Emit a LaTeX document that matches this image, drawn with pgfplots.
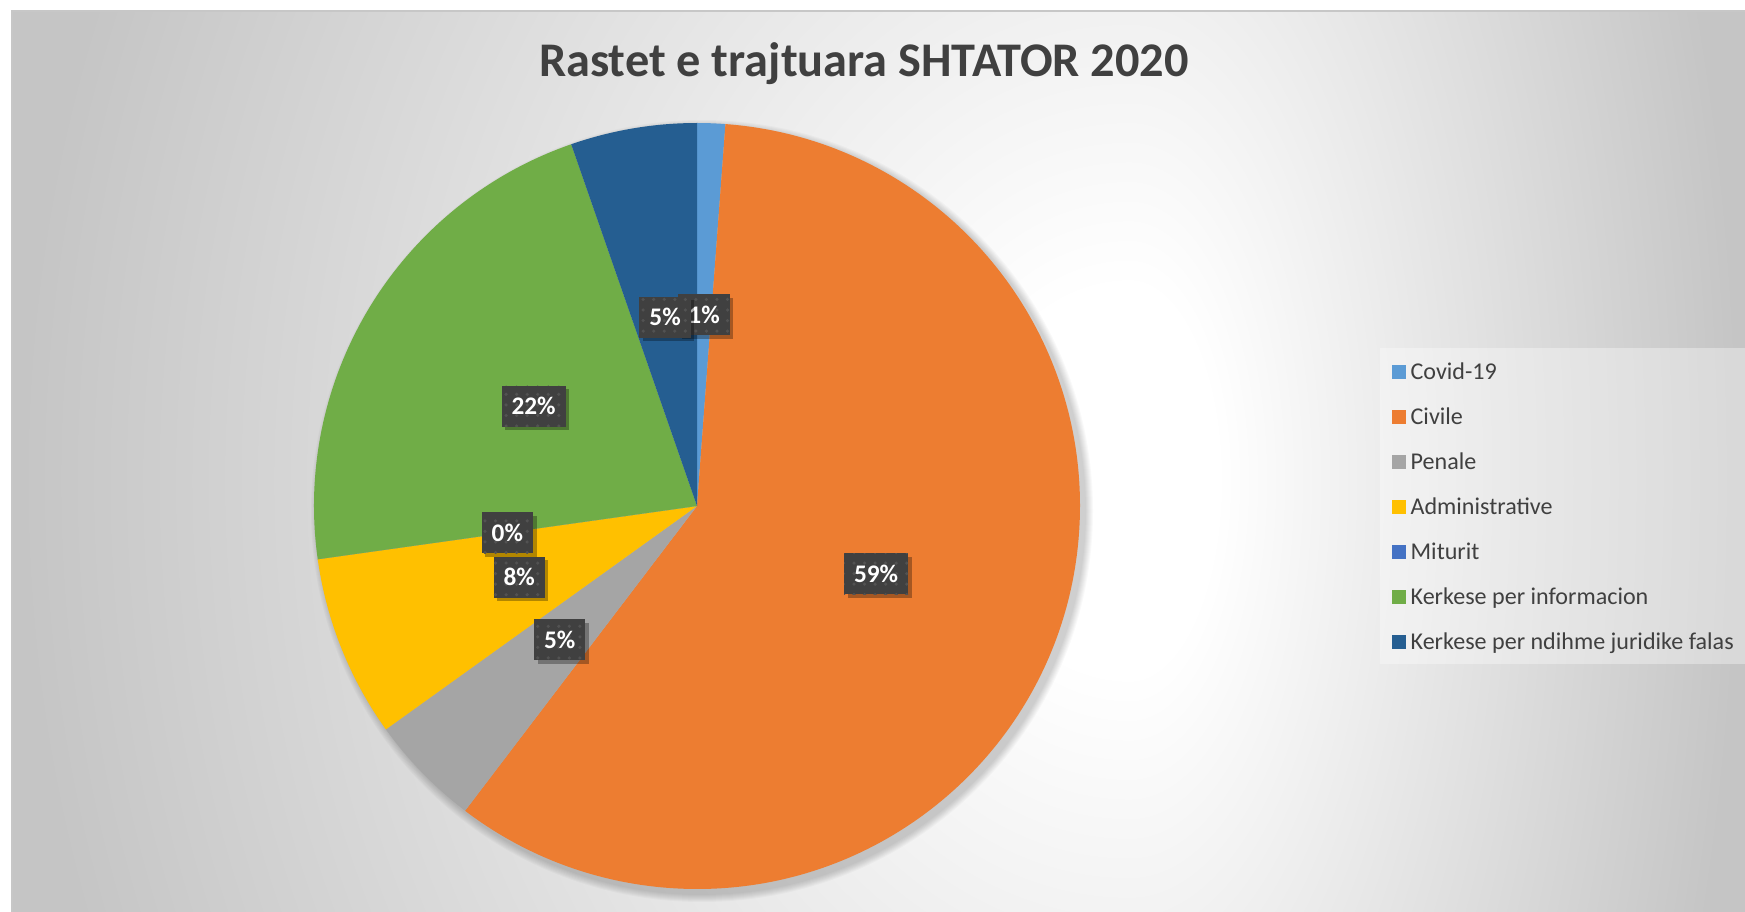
\documentclass[border=0pt]{standalone}
\usepackage{fontspec}
\setmainfont{Carlito}
\usepackage{pgfplots}
\usepackage{pgfplotstable}
\pgfplotsset{compat=1.18}
\usetikzlibrary{shadows,patterns}

\definecolor{c0}{HTML}{5B9BD5}
\definecolor{c1}{HTML}{ED7D31}
\definecolor{c2}{HTML}{A5A5A5}
\definecolor{c3}{HTML}{FFC000}
\definecolor{c4}{HTML}{4472C4}
\definecolor{c5}{HTML}{70AD47}
\definecolor{c6}{HTML}{255E91}
\definecolor{txtgray}{HTML}{404040}
\definecolor{boxgray}{HTML}{404040}
\definecolor{bgdark}{RGB}{197,197,197}

% cases handled, September 2020
\pgfplotstableread[col sep=comma]{
name,count
Covid-19,2
Civile,100
Penale,8
Administrative,13
Miturit,0
Kerkese per informacion,37
Kerkese per ndihme juridike falas,9
}\casetable

% total and slice angles (clockwise from 12 o'clock)
\def\total{0}
\foreach \i in {0,...,6}{%
  \pgfplotstablegetelem{\i}{count}\of\casetable
  \pgfmathparse{\total+\pgfplotsretval}%
  \xdef\total{\pgfmathresult}%
}
\def\cumsum{0}
\foreach \i in {0,...,6}{%
  \pgfplotstablegetelem{\i}{count}\of\casetable
  \pgfmathsetmacro\angA{90-360*(\cumsum/\total)}%
  \pgfmathtruncatemacro\pct{round(100*(\pgfplotsretval/\total))}%
  \pgfmathparse{\cumsum+\pgfplotsretval}\xdef\cumsum{\pgfmathresult}%
  \pgfmathsetmacro\angB{90-360*(\cumsum/\total)}%
  \pgfmathsetmacro\angM{(\angA+\angB)/2}%
  \expandafter\xdef\csname pieA\i\endcsname{\angA}%
  \expandafter\xdef\csname pieB\i\endcsname{\angB}%
  \expandafter\xdef\csname pieM\i\endcsname{\angM}%
  \expandafter\xdef\csname pieP\i\endcsname{\pct}%
}

\tikzset{lbl/.style={fill=boxgray, text=white,
  font=\fontsize{7.2pt}{8.6pt}\selectfont\bfseries,
  inner xsep=1mm, inner ysep=0pt, minimum height=4.1mm,
  text height=1.75mm, text depth=0mm,
  drop shadow={shadow xshift=0.35mm, shadow yshift=-0.35mm, fill=black, opacity=0.3},
  postaction={pattern=dots, pattern color=black!68}}}

\begin{document}
\begin{tikzpicture}
% chart area background: off-centre radial fade, white to grey
\fill[white] (-1mm,-1mm) rectangle (176mm,91.1mm);
\begin{scope}
  \clip (1.2mm,-1mm) rectangle (113.1mm,90mm);
  \fill[bgdark] (0,-1mm) rectangle (113.1mm,90mm);
  \foreach \k in {58,57,...,0}{
    \pgfmathsetmacro\rr{0.15+0.85*\k/58}
    \pgfmathtruncatemacro\g{255-\k}
    \fill[fill={rgb,255:red,\g;green,\g;blue,\g}] (113mm,43mm)
      ellipse[x radius=\rr*111.8mm, y radius=\rr*134mm];
  }
\end{scope}
\begin{scope}
  \clip (113mm,-1mm) rectangle (176mm,90mm);
  \fill[bgdark] (113mm,-1mm) rectangle (176mm,90mm);
  \foreach \k in {58,57,...,0}{
    \pgfmathsetmacro\rr{0.15+0.85*\k/58}
    \pgfmathtruncatemacro\g{255-\k}
    \fill[fill={rgb,255:red,\g;green,\g;blue,\g}] (113mm,43mm)
      ellipse[x radius=\rr*61.5mm, y radius=\rr*134mm];
  }
\end{scope}
\draw[black!22, line width=0.15mm] (1.2mm,-1mm) -- (1.2mm,90mm) -- (176mm,90mm);

\begin{axis}[
    name=ax, at={(0,0)}, anchor=south west,
    width=17.45cm, height=9.11cm, scale only axis,
    xmin=0, xmax=1745, ymin=0, ymax=911,
    hide axis,
    legend style={
      at={(axis description cs:0.7908,0.6175)}, anchor=north west,
      draw=none, fill=none,
      inner xsep=1.1mm, inner ysep=0pt, row sep=0pt,
      font=\fontsize{6.85pt}{8pt}\selectfont, text=txtgray,
      nodes={inner xsep=0.5mm, inner ysep=0pt, minimum height=4.5mm,
             text height=1.9mm, text depth=0.35mm},
    },
    legend cell align=left,
    legend image code/.code={\fill[#1] (0mm,-0.7mm) rectangle (1.4mm,0.7mm);},
]
% soft shadow of the pie
\pgfplotsinvokeforeach{1,...,8}{
  \fill[black, opacity=0.022] (axis cs:702,400) circle[radius={3.83cm+#1*0.1mm}];
}
% slices
\pgfplotsinvokeforeach{0,...,6}{
  \fill[c#1] (axis cs:697,405) -- ++({\csname pieA#1\endcsname}:3.83cm)
    arc[start angle=\csname pieA#1\endcsname, end angle=\csname pieB#1\endcsname, radius=3.83cm] -- cycle;
}
% data labels
\pgfplotsinvokeforeach{0,...,6}{
  \path (axis cs:697,405) ++({\csname pieM#1\endcsname}:1.915cm)
    node[lbl] {\csname pieP#1\endcsname\%};
}

% legend
\fill[white, opacity=0.35] (axis cs:1380,247) rectangle (axis cs:1770,563);
\pgfplotsinvokeforeach{0,...,6}{
  \pgfplotstablegetelem{#1}{name}\of\casetable
  \addlegendimage{fill=c#1, draw=none}
  \addlegendentryexpanded{\pgfplotsretval}
}

% title
\node[anchor=base, text=txtgray, font=\fontsize{13.75pt}{16pt}\selectfont\bfseries]
  at (axis cs:864,834) {Rastet e trajtuara SHTATOR 2020};
\end{axis}
\pgfresetboundingbox
\path (0,0) rectangle (174.5mm,91.1mm);
\end{tikzpicture}
\end{document}
